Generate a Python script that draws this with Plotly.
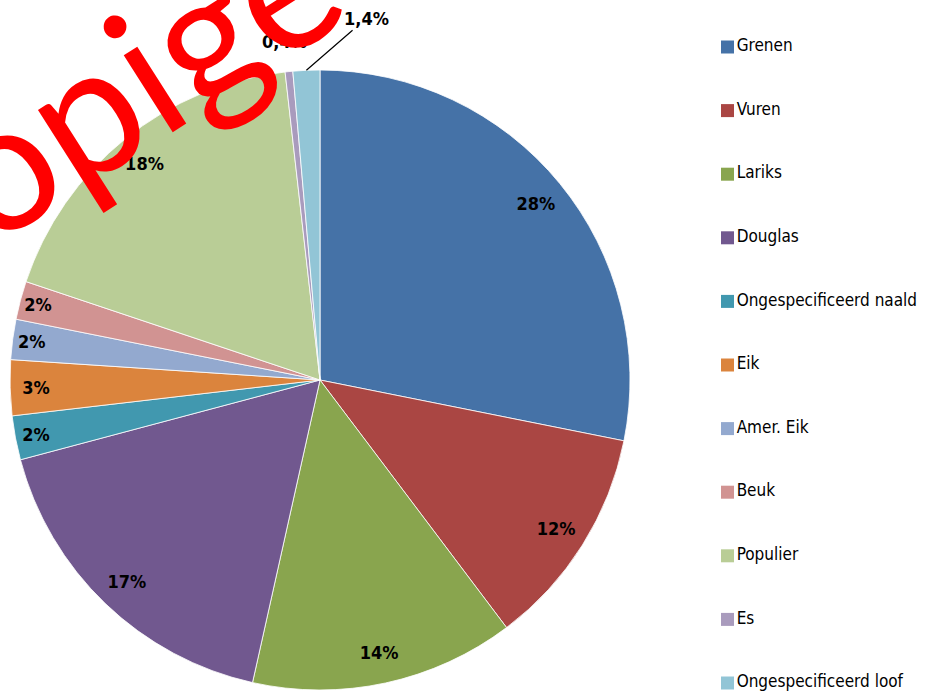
import math
import plotly.graph_objects as go

labels = ["Grenen", "Vuren", "Lariks", "Douglas", "Ongespecificeerd naald", "Eik",
          "Amer. Eik", "Beuk", "Populier", "Es", "Ongespecificeerd loof"]
values = [28.2, 11.6, 13.8, 17.4, 2.3, 2.9, 2.1, 2.0, 18.1, 0.4, 1.4]
colors = ["#4572A7", "#AA4643", "#89A54E", "#71588F", "#4198AF", "#DB843D",
          "#93A9CF", "#D19392", "#B9CD96", "#A99BBD", "#92C5D6"]

def fmt(v):
    if v < 2:
        return f"{v:.1f}%".replace(".", ",")
    return f"{round(v):d}%"

texts = [fmt(v) for v in values]
small = [v < 2 for v in values]

FONT = "Liberation Sans Narrow, Noto Sans Condensed, DejaVu Sans Condensed, sans-serif"
W, H = 925, 694
DX, DY = [10 / W, 630 / W], [4 / H, 624 / H]
LBL = dict(family=FONT, size=18, color="black", weight="bold")

fig = go.Figure()
fig.add_trace(go.Pie(
    labels=labels, values=values, textinfo="none",
    sort=False, direction="clockwise", rotation=0,
    marker=dict(colors=colors, line=dict(color="white", width=0.8)),
    domain=dict(x=DX, y=DY), showlegend=False, hoverinfo="label+percent",
))
# transparent ring on top, carries the inside labels near the rim
fig.add_trace(go.Pie(
    labels=labels, values=values, text=texts, textinfo="text",
    textposition=["none" if s else "inside" for s in small],
    insidetextorientation="horizontal", hole=0.8,
    sort=False, direction="clockwise", rotation=0,
    marker=dict(colors=["rgba(0,0,0,0)"] * len(values), line=dict(width=0)),
    insidetextfont=LBL, textfont=LBL,
    domain=dict(x=DX, y=DY), showlegend=False, hoverinfo="skip",
))

# outside labels of the tiny slices, anchored on the rim at each slice's mid angle
cx, cy = sum(DX) / 2, sum(DY) / 2
rad_px = min((DX[1] - DX[0]) * W, (DY[1] - DY[0]) * H) / 2
total = sum(values)
cum = 0.0
offsets = {"Es": (-4, -30, "rgba(0,0,0,0)"), "Ongespecificeerd loof": (60, -52, "black")}
for lab, v, t in zip(labels, values, texts):
    mid = (cum + v / 2) / total * 2 * math.pi
    cum += v
    if lab in offsets:
        ax, ay, ac = offsets[lab]
        fig.add_annotation(
            text=t, xref="paper", yref="paper",
            x=cx + rad_px * math.sin(mid) / W, y=cy + rad_px * math.cos(mid) / H,
            ax=ax, ay=ay, showarrow=True, arrowhead=0, arrowwidth=1.2, arrowcolor=ac,
            font=LBL,
        )

# legend drawn as a scatter on its own axes
fig.add_trace(go.Scatter(
    x=[0] * len(labels), y=labels, mode="markers+text",
    marker=dict(symbol="square", size=13, color=colors),
    text=labels, textposition="middle right",
    textfont=dict(family=FONT, size=17, color="black"),
    xaxis="x2", yaxis="y2", showlegend=False, hoverinfo="skip", cliponaxis=False,
))

fig.add_annotation(
    text="Voorlopige", xref="paper", yref="paper", x=-42 / W, y=1 - 186 / H,
    xanchor="center", yanchor="middle", textangle=-32.5, showarrow=False,
    font=dict(family="Lato", size=180, color="#FF0000"),
)

fig.update_layout(
    width=W, height=H, margin=dict(l=0, r=0, t=0, b=0),
    paper_bgcolor="white", plot_bgcolor="white",
    xaxis2=dict(domain=[727.5 / W, 1.0], range=[0, 10], visible=False, fixedrange=True),
    yaxis2=dict(domain=[0, 1], type="category", categoryarray=labels,
                range=[(H - 47) / 63.6, -47 / 63.6], visible=False, fixedrange=True),
)

fig.write_html("out.html", config={"displayModeBar": False},
               post_script="document.body.style.margin='0';")
